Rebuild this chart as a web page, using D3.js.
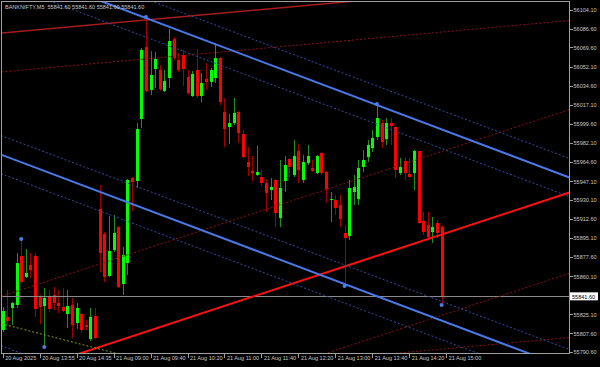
<!DOCTYPE html>
<html lang="en">
<meta charset="utf-8">
<style>
body { margin: 0; background: #000; }
svg { display: block; }
text { font-family: "Liberation Sans", Arial, sans-serif; font-size: 6px; }
.axis text { fill: #c8c8c8; }
.axis path, .axis line { stroke: #a0a0a0; shape-rendering: crispEdges; }
</style>
<body>
<script src="https://d3js.org/d3.v7.min.js"></script>
<script>
// chart size
var w = 600, h = 367;
var plotLeft = 2, plotTop = 2, plotRight = 569, plotBottom = 353;

// BANKNIFTY M5, one value per bar (bar 0 = 20 Aug 13:15)
var opens = [55810.7,55822.6,55830.9,55833.6,55878.5,55859.3,55870.3,55878.5,55841.9,55832.7,
  55841.0,55842.8,55835.5,55831.8,55825.4,55833.6,55817.1,55825.4,55815.3,55802.5,
  55823.5,55921.6,55898.7,55860.2,55884.0,55905.1,55852.9,55872.1,55949.9,55947.2,
  56004.0,56070.0,56030.6,56049.8,56048.9,56029.6,56041.6,56077.3,56058.0,56062.6,
  56042.5,56025.1,56048.9,56025.1,56040.6,56037.9,56041.6,56059.9,56010.4,55996.7,
  56000.3,56010.4,55990.3,55964.6,55956.4,55952.7,55950.9,55945.4,55939.0,55948.1,
  55913.3,55947.2,55967.4,55952.7,55974.7,55948.1,55963.7,55959.1,55954.5,55972.9,
  55955.4,55929.8,55929.8,55925.2,55899.6,55896.8,55937.1,55930.7,55960.0,55969.2,
  55977.4,55987.5,56000.3,55985.7,56000.3,55996.7,55954.5,55965.5,55953.6,55954.5,
  55974.7,55910.6,55906.9,55900.5,55908.7,55905.1];
var highs = [55831.8,55847.4,55836.4,55881.2,55893.2,55884.9,55881.2,55881.2,55842.8,55849.2,
  55847.4,55850.1,55847.4,55849.2,55847.4,55840.0,55835.5,55826.3,55819.9,55830.9,
  55830.9,55943.5,55900.5,55915.1,55916.1,55906.0,55886.8,55949.0,55950.9,56000.3,
  56069.0,56096.5,56066.3,56065.4,56053.5,56048.9,56086.4,56079.1,56064.5,56067.2,
  56048.9,56048.0,56068.1,56046.1,56055.3,56050.7,56073.6,56060.8,56023.2,56008.6,
  56023.2,56011.3,55993.9,55978.3,55970.1,55979.3,55957.3,55949.0,55949.9,55949.0,
  55966.5,55970.1,55968.3,55984.8,55981.1,55971.0,55980.2,55966.5,55971.0,55973.8,
  55956.4,55937.1,55934.4,55934.4,55906.9,55948.1,55952.7,55966.5,55975.6,55984.8,
  55993.9,56016.8,56003.1,56004.9,56004.9,55997.6,55968.3,55969.2,55968.3,55975.6,
  55974.7,55918.8,55918.8,55914.2,55911.5,55906.9];
var lows = [55808.9,55816.2,55815.3,55830.9,55853.8,55858.4,55858.4,55822.6,55816.2,55797.0,
  55827.2,55829.0,55826.3,55827.2,55812.6,55803.4,55811.6,55808.0,55810.7,55800.6,
  55802.5,55863.9,55854.7,55859.3,55882.2,55849.2,55842.8,55861.1,55919.7,55940.8,
  55995.8,56028.7,56026.0,56032.4,56029.6,56028.7,56032.4,56058.0,56047.0,56034.2,
  56026.0,56024.1,56023.2,56019.6,56030.6,56033.3,56037.0,56016.8,55978.3,55981.1,
  55998.5,55982.0,55968.3,55951.8,55947.2,55951.8,55942.6,55918.8,55929.8,55905.1,
  55905.1,55937.1,55950.9,55950.9,55945.4,55945.4,55961.9,55955.4,55953.6,55952.7,
  55927.1,55909.6,55916.1,55905.1,55852.9,55893.2,55925.2,55925.2,55955.4,55964.6,
  55973.8,55984.8,55977.4,55980.2,55980.2,55949.9,55952.7,55948.1,55949.9,55939.0,
  55907.8,55897.7,55893.2,55890.4,55895.0,55835.5];
var closes = [55828.1,55818.9,55835.5,55872.1,55854.7,55862.9,55865.7,55830.0,55831.8,55840.0,
  55830.0,55835.5,55832.7,55828.1,55832.7,55815.3,55830.9,55810.7,55813.5,55822.6,
  55803.4,55881.2,55859.3,55883.1,55899.6,55850.1,55879.4,55948.1,55946.3,55994.8,
  56067.2,56029.6,56044.3,56059.0,56031.5,56038.8,56075.4,56059.9,56048.9,56049.8,
  56027.8,56045.2,56025.1,56037.0,56037.9,56048.9,56059.9,56019.6,55994.8,56000.3,
  56009.5,55991.2,55969.2,55960.0,55954.5,55955.4,55945.4,55936.2,55941.7,55917.9,
  55940.8,55961.9,55960.0,55970.1,55957.3,55964.6,55970.1,55956.4,55970.1,55954.5,
  55939.9,55930.7,55922.5,55912.4,55895.0,55940.8,55941.7,55959.1,55966.5,55980.2,
  55986.6,56004.9,55982.9,56000.3,55997.6,55957.3,55960.0,55954.5,55950.9,55974.7,
  55908.7,55900.5,55895.9,55905.1,55899.6,55841.6];

var lastPrice = 55841.6;
var swingHighs = [4, 31, 81];
var swingLows = [9, 74, 95];

// time axis: a label every 8 bars
var xTickBars = [0, 8, 16, 24, 32, 40, 48, 56, 64, 72, 80, 88, 96];
var xTickLabels = ["20 Aug 2025", "20 Aug 13:55", "20 Aug 14:35", "21 Aug 09:00", "21 Aug 09:40",
  "21 Aug 10:20", "21 Aug 11:00", "21 Aug 11:40", "21 Aug 12:20", "21 Aug 13:00",
  "21 Aug 13:40", "21 Aug 14:20", "21 Aug 15:00"];
var yTickPrices = [56104.1, 56086.6, 56069.6, 56052.1, 56034.6, 56017.1, 55999.6, 55982.1,
  55964.6, 55947.1, 55930.1, 55912.6, 55895.1, 55877.6, 55860.1, 55825.1, 55807.6, 55790.6];

// drawn objects: [bar, price] anchors
var blueTop1 = [31, 56096.5], blueTop2 = [81, 56016.8], blueBottom = [74, 55852.9];
var blueSolidLevels = [0, 1];
var blueDotLevels = [-0.1, 0.1, 0.9, 1.1, 2];
var redA = [16, 55788.3], redB = [95, 55898.2];
var redDotOffsets = [76, -74];
var darkA = [0, 56082.8], darkB = [31, 56094.7];
var darkDotOffsets = [-35.6, -326];
var oliveA = [0, 55816.2], oliveB = [24, 55790];

var x = d3.scaleLinear().domain([0, 122.64]).range([2.7, 569.3]);
var y = d3.scaleLinear().domain([55789.7, 56111.2]).range([plotBottom, plotTop]);

var svg = d3.select("body").append("svg")
  .attr("width", w).attr("height", h)
  .style("background", "#000");

svg.append("clipPath").attr("id", "plot")
  .append("rect").attr("x", plotLeft).attr("y", plotTop)
  .attr("width", plotRight - plotLeft).attr("height", plotBottom - plotTop);

var chart = svg.append("g").attr("clip-path", "url(#plot)");

// candles
var bars = chart.selectAll(".bar").data(opens).enter().append("g").attr("class", "bar");
bars.append("line")
  .attr("x1", function(d, i) { return Math.round(x(i)) + 0.5; })
  .attr("x2", function(d, i) { return Math.round(x(i)) + 0.5; })
  .attr("y1", function(d, i) { return y(highs[i]); })
  .attr("y2", function(d, i) { return y(lows[i]); })
  .attr("stroke", function(d, i) { return closes[i] >= d ? "#1f8f1f" : "#a00000"; })
  .attr("stroke-width", 1)
  .style("shape-rendering", "crispEdges");
bars.append("rect")
  .attr("x", function(d, i) { return Math.round(x(i)) - 1; })
  .attr("width", 3)
  .attr("y", function(d, i) { return y(Math.max(d, closes[i])); })
  .attr("height", function(d, i) { return Math.max(1, Math.abs(y(d) - y(closes[i]))); })
  .attr("fill", function(d, i) { return closes[i] >= d ? "#00ff00" : "#ff0000"; })
  .style("shape-rendering", "crispEdges");

// price line
chart.append("line")
  .attr("x1", plotLeft).attr("x2", plotRight)
  .attr("y1", Math.round(y(lastPrice)) + 0.5).attr("y2", Math.round(y(lastPrice)) + 0.5)
  .attr("stroke", "#8a8a8a");

// straight lines through two anchors, shifted by an offset in price
function drawLine(a, b, offset, color, width, dash) {
  var slope = (b[1] - a[1]) / (b[0] - a[0]);
  var p = function(bar) { return a[1] + slope * (bar - a[0]) + offset; };
  chart.append("line")
    .attr("x1", x(-2)).attr("y1", y(p(-2)))
    .attr("x2", x(126)).attr("y2", y(p(126)))
    .attr("stroke", color)
    .attr("stroke-width", width)
    .attr("stroke-dasharray", dash);
}

// dark red trend line with its dotted copies
drawLine(darkA, darkB, 0, "#a51c1c", 1.5, null);
darkDotOffsets.forEach(function(o) { drawLine(darkA, darkB, o, "#8f1212", 1, "2,2"); });

// red channel
redDotOffsets.forEach(function(o) { drawLine(redA, redB, o, "#8f1212", 1, "2,2"); });
drawLine(redA, redB, 0, "#ff1010", 2, null);

// olive line bottom left
drawLine(oliveA, oliveB, 0, "#8a9a20", 1, "2,2");

// blue channel: level 0 on the highs, level 1 on the low
var blueSlope = (blueTop2[1] - blueTop1[1]) / (blueTop2[0] - blueTop1[0]);
var blueWidth = blueTop1[1] + blueSlope * (blueBottom[0] - blueTop1[0]) - blueBottom[1];
blueDotLevels.forEach(function(k) {
  drawLine(blueTop1, blueTop2, -k * blueWidth, "#2f4fa8", 1, "2,2");
});
blueSolidLevels.forEach(function(k) {
  drawLine(blueTop1, blueTop2, -k * blueWidth, "#4a78e6", 2, null);
});

// swing markers
chart.selectAll(".hi").data(swingHighs).enter().append("circle")
  .attr("cx", function(d) { return x(d); })
  .attr("cy", function(d) { return y(highs[d]) - 1; })
  .attr("r", 2).attr("fill", "#4a7ee8");
chart.selectAll(".lo").data(swingLows).enter().append("circle")
  .attr("cx", function(d) { return x(d); })
  .attr("cy", function(d) { return y(lows[d]) + 2; })
  .attr("r", 2).attr("fill", "#4a7ee8");

// frame
svg.append("rect")
  .attr("x", 1.5).attr("y", 1.5)
  .attr("width", plotRight - 1).attr("height", plotBottom - 1)
  .attr("fill", "none").attr("stroke", "#a0a0a0");

// price axis
var yAxis = svg.append("g").attr("class", "axis")
  .attr("transform", "translate(" + (plotRight + 0.5) + ",0)")
  .call(d3.axisRight(y).tickValues(yTickPrices).tickSize(3).tickSizeOuter(0)
    .tickPadding(1).tickFormat(d3.format(".2f")));
yAxis.select(".domain").remove();
yAxis.selectAll("text").attr("font-size", null).attr("font-family", null);

// time axis
var xAxis = svg.append("g").attr("class", "axis")
  .attr("transform", "translate(0," + (plotBottom + 0.5) + ")")
  .call(d3.axisBottom(x).tickValues(xTickBars).tickSize(4).tickSizeOuter(0)
    .tickFormat(function(d, i) { return xTickLabels[i]; }));
xAxis.select(".domain").remove();
xAxis.selectAll("text").attr("font-size", null).attr("font-family", null)
  .attr("text-anchor", "start").attr("x", 2).attr("y", 2).attr("dy", "0.71em");

// current price tag
svg.append("rect")
  .attr("x", plotRight + 1).attr("y", y(lastPrice) - 4)
  .attr("width", 28).attr("height", 8).attr("fill", "#fff");
svg.append("text")
  .attr("x", plotRight + 3).attr("y", y(lastPrice) + 2.2)
  .attr("fill", "#000").text(d3.format(".2f")(lastPrice));

// header
svg.append("text")
  .attr("x", 5).attr("y", 9)
  .attr("fill", "#c8c8c8")
  .style("white-space", "pre")
  .text("BANKNIFTY,M5  " + [lastPrice, lastPrice, lastPrice, lastPrice].map(d3.format(".2f")).join(" "));

// the terminal font is a little narrower than Liberation Sans
svg.selectAll("text").each(function() {
  var len = this.getComputedTextLength();
  d3.select(this).attr("textLength", len * 0.92).attr("lengthAdjust", "spacingAndGlyphs");
});
</script>
</body>
</html>
